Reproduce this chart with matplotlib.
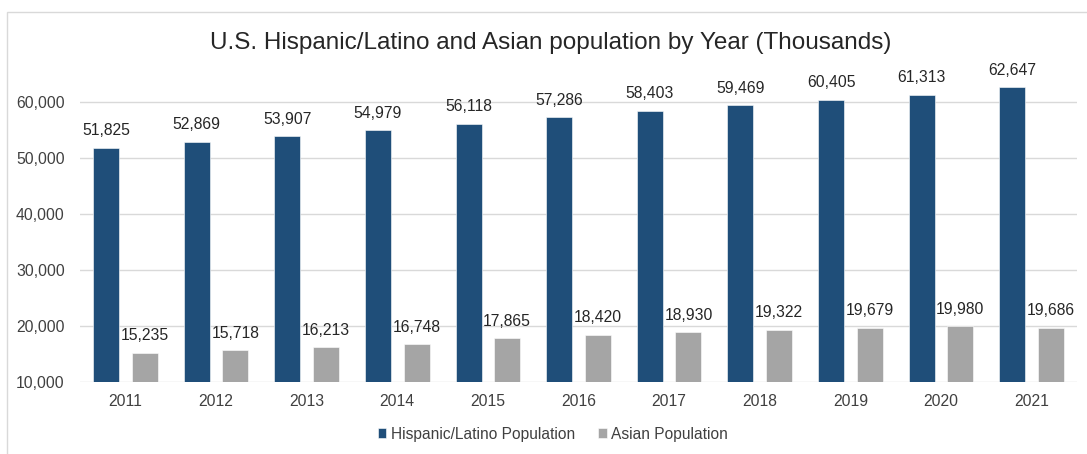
import matplotlib
matplotlib.use("Agg")
import matplotlib.pyplot as plt
import numpy as np
from matplotlib.patches import Rectangle
from matplotlib.ticker import FuncFormatter, MultipleLocator

years = ["2011", "2012", "2013", "2014", "2015", "2016", "2017", "2018", "2019", "2020", "2021"]
hispanic = [51825, 52869, 53907, 54979, 56118, 57286, 58403, 59469, 60405, 61313, 62647]
asian = [15235, 15718, 16213, 16748, 17865, 18420, 18930, 19322, 19679, 19980, 19686]

title = "U.S. Hispanic/Latino and Asian population by Year (Thousands)"
series_names = ["Hispanic/Latino Population", "Asian Population"]
blue = "#1F4E79"
gray = "#A5A5A5"

plt.rcParams["font.family"] = ["Liberation Sans", "DejaVu Sans"]

W, H = 1087, 454
fig = plt.figure(figsize=(W / 100, H / 100), dpi=100)
ax = fig.add_axes([80 / W, 1 - 382 / H, (1077 - 80) / W, (382 - 74) / H])

x = np.arange(len(years))
bw = 0.287
off = 0.213
b1 = ax.bar(x - off, hispanic, bw, color=blue, edgecolor="white", linewidth=0.4,
            label=series_names[0], zorder=3)
b2 = ax.bar(x + off, asian, bw, color=gray, edgecolor="white", linewidth=0.4,
            label=series_names[1], zorder=3)

for bars, vals in ((b1, hispanic), (b2, asian)):
    for r, v in zip(bars, vals):
        ax.annotate(f"{v:,}", (r.get_x() + r.get_width() / 2, v),
                    xytext=(0, 12.2), textcoords="offset points",
                    ha="center", va="center", fontsize=11.3, color="#262626")

ax.set_xlim(-0.5, len(years) - 0.5)
ax.set_ylim(10000, 65000)
ax.yaxis.set_major_locator(MultipleLocator(10000))
ax.yaxis.set_major_formatter(FuncFormatter(lambda v, p: f"{int(v):,}"))
ax.set_xticks(x)
ax.set_xticklabels(years)
ax.tick_params(axis="both", length=0, labelsize=11.3, labelcolor="#404040")
ax.tick_params(axis="y", pad=11)
ax.tick_params(axis="x", pad=9)
ax.grid(axis="y", color="#D9D9D9", linewidth=1, zorder=0)
for s in ax.spines.values():
    s.set_visible(False)

fig.text(551 / W, 1 - 43 / H, title, ha="center", va="center", fontsize=17.5, color="#262626")

leg = fig.legend(loc="center", bbox_to_anchor=(553 / W, 1 - 434 / H), ncol=2, frameon=False,
                 fontsize=11.2, handlelength=0.55, handleheight=0.55, handletextpad=0.3,
                 columnspacing=1.45, labelcolor="#404040")

fig.patches.append(Rectangle((7 / W, -0.5), 2, (1 - 12 / H) + 0.5, transform=fig.transFigure,
                             fill=False, edgecolor="#D9D9D9", linewidth=1))

fig.savefig("out.png", dpi=100)
